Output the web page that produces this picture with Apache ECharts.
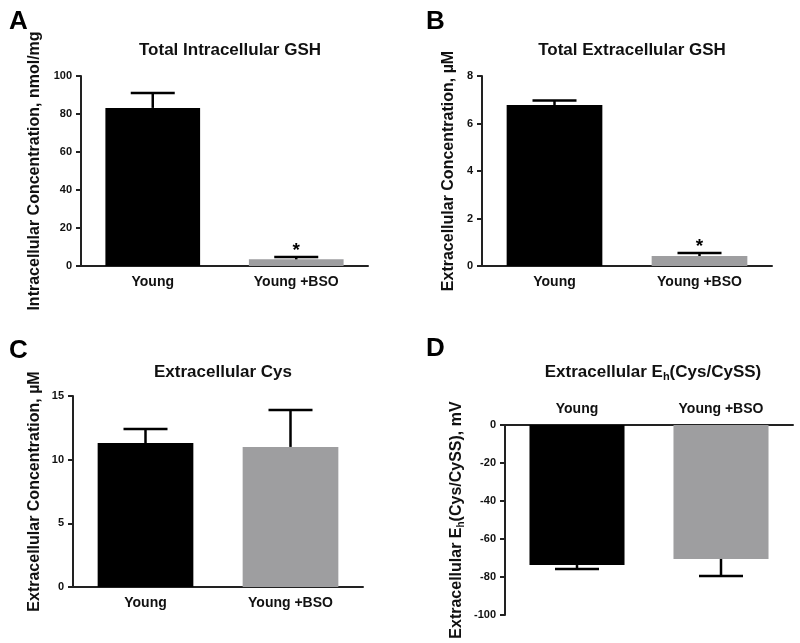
<!DOCTYPE html>
<html>
<head>
<meta charset="utf-8">
<script src="https://cdn.jsdelivr.net/npm/echarts@6/dist/echarts.min.js"></script>
<style>html,body{margin:0;padding:0;background:#fff}#c{width:800px;height:643px}</style>
</head>
<body>
<div id="c"></div>
<script>
// ---- data ----
const categories = ['Young', 'Young +BSO'];
const barColors = ['#000000', '#9e9ea0'];

const intraGSH = [83.2, 3.5];
const intraGSHErr = [91.0, 4.7];
const intraSig = ['', '*'];

const extraGSH = [6.78, 0.42];
const extraGSHErr = [6.97, 0.55];
const extraSig = ['', '*'];

const extraCys = [11.3, 11.0];
const extraCysErr = [12.4, 13.9];
const cysSig = ['', ''];

const ehCys = [-73.7, -70.5];
const ehCysErr = [-75.8, -79.5];
const ehSig = ['', ''];

const yTicksA = {min: 0, max: 100, interval: 20};
const yTicksB = {min: 0, max: 8, interval: 2};
const yTicksC = {min: 0, max: 15, interval: 5};
const yTicksD = {min: -100, max: 0, interval: 20};

// ---- chart ----
const FONT = "'Liberation Sans', Arial, sans-serif";
const AX = '#222';
const chart = echarts.init(document.getElementById('c'));

const grids = [
  {left: 81, top: 76, width: 287, height: 190},
  {left: 482, top: 76, width: 290, height: 190},
  {left: 73, top: 396, width: 290, height: 191},
  {left: 505, top: 425, width: 288, height: 190}
];

function xAxis(i, pos) {
  return {
    type: 'category', gridIndex: i, data: categories, position: pos,
    boundaryGap: true,
    axisLine: {onZero: false, lineStyle: {color: AX, width: 2}},
    axisTick: {alignWithLabel: true, length: 5, lineStyle: {color: AX, width: 2}},
    axisLabel: {color: '#111', fontFamily: FONT, fontWeight: 'bold', fontSize: 14, margin: 9},
    splitLine: {show: false}
  };
}
function yAxis(i, t, name, gap, rich) {
  const o = {
    type: 'value', gridIndex: i, min: t.min, max: t.max, interval: t.interval,
    name: name, nameLocation: 'middle', nameGap: gap, nameRotate: 90,
    nameTextStyle: {color: '#111', fontFamily: FONT, fontWeight: 'bold', fontSize: 16},
    axisLine: {show: true, lineStyle: {color: AX, width: 2}},
    axisTick: {show: true, length: 5, lineStyle: {color: AX, width: 2}},
    axisLabel: {color: '#111', fontFamily: FONT, fontWeight: 'bold', fontSize: 11, margin: 9},
    splitLine: {show: false}
  };
  if (rich) o.nameTextStyle.rich = rich;
  return o;
}

function barSeries(i, vals) {
  return {
    type: 'bar', xAxisIndex: i, yAxisIndex: i, barWidth: '66%',
    data: vals.map((v, k) => ({value: v, itemStyle: {color: barColors[k]}})),
    silent: true, animation: false
  };
}
function errSeries(i, vals, errs, sig) {
  return {
    type: 'custom', xAxisIndex: i, yAxisIndex: i, animation: false, silent: true, z: 5,
    data: vals.map((v, k) => [k, v, errs[k]]),
    renderItem: function (params, api) {
      const x = api.value(0), v = api.value(1), e = api.value(2);
      const p0 = api.coord([x, v]);
      const p1 = api.coord([x, e]);
      const half = 22;
      const style = {stroke: '#000', lineWidth: 2.5};
      const children = [
        {type: 'line', shape: {x1: p0[0], y1: p0[1], x2: p1[0], y2: p1[1]}, style: style},
        {type: 'line', shape: {x1: p1[0] - half, y1: p1[1], x2: p1[0] + half, y2: p1[1]}, style: style}
      ];
      const s = sig[params.dataIndex];
      if (s) {
        children.push({type: 'text', style: {text: s, x: p1[0], y: p1[1] + 3, align: 'center', verticalAlign: 'bottom',
          fill: '#000', font: 'bold 19px ' + FONT}});
      }
      return {type: 'group', children: children};
    }
  };
}

const titleStyle = {color: '#111', fontFamily: FONT, fontWeight: 'bold', fontSize: 17};
const letterStyle = {color: '#000', fontFamily: FONT, fontWeight: 'bold', fontSize: 26};

chart.setOption({
  animation: false,
  title: [
    {text: 'A', left: 4, top: 4, textStyle: letterStyle},
    {text: 'B', left: 421, top: 4, textStyle: letterStyle},
    {text: 'C', left: 4, top: 333, textStyle: letterStyle},
    {text: 'D', left: 421, top: 331, textStyle: letterStyle},
    {text: 'Total Intracellular GSH', left: 225, textAlign: 'center', top: 37, textStyle: titleStyle},
    {text: 'Total Extracellular GSH', left: 627, textAlign: 'center', top: 37, textStyle: titleStyle},
    {text: 'Extracellular Cys', left: 218, textAlign: 'center', top: 359, textStyle: titleStyle},
    {text: '{a|Extracellular E}{s|h}{a|(Cys/CySS)}', left: 648, textAlign: 'center', top: 358,
      textStyle: Object.assign({}, titleStyle, {rich: {
        a: {color: '#111', fontFamily: FONT, fontWeight: 'bold', fontSize: 17},
        s: {color: '#111', fontFamily: FONT, fontWeight: 'bold', fontSize: 11, verticalAlign: 'bottom', padding: [8, 0, 0, 0]}
      }})}
  ],
  grid: grids,
  xAxis: [xAxis(0, 'bottom'), xAxis(1, 'bottom'), xAxis(2, 'bottom'), xAxis(3, 'top')],
  yAxis: [
    yAxis(0, yTicksA, 'Intracellular Concentration, nmol/mg', 38),
    yAxis(1, yTicksB, 'Extracellular Concentration, µM', 25),
    yAxis(2, yTicksC, 'Extracellular Concentration, µM', 30),
    yAxis(3, yTicksD, '{a|Extracellular E}{s|h}{a|(Cys/CySS), mV}', 39, {
      a: {color: '#111', fontFamily: FONT, fontWeight: 'bold', fontSize: 16},
      s: {color: '#111', fontFamily: FONT, fontWeight: 'bold', fontSize: 10, padding: [8, 0, 0, 0]}
    })
  ],
  series: [
    barSeries(0, intraGSH), errSeries(0, intraGSH, intraGSHErr, intraSig),
    barSeries(1, extraGSH), errSeries(1, extraGSH, extraGSHErr, extraSig),
    barSeries(2, extraCys), errSeries(2, extraCys, extraCysErr, cysSig),
    barSeries(3, ehCys), errSeries(3, ehCys, ehCysErr, ehSig)
  ]
});
</script>
</body>
</html>
